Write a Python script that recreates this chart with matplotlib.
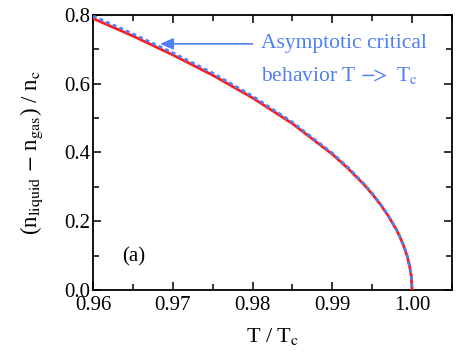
import matplotlib
matplotlib.use("Agg")
import matplotlib.pyplot as plt
from matplotlib.ticker import MultipleLocator

# data
T_red = [0.960, 0.965, 0.970, 0.975, 0.980, 0.985, 0.990, 0.992, 0.994, 0.995,
         0.996, 0.997, 0.998, 0.9985, 0.999, 0.9994, 0.9997, 0.9999, 1.000]
n_red = [0.790, 0.739, 0.684, 0.625, 0.559, 0.484, 0.395, 0.353, 0.306, 0.279,
         0.250, 0.216, 0.177, 0.153, 0.125, 0.097, 0.068, 0.040, 0.000]
T_blue = T_red
n_blue = [0.797, 0.745, 0.690, 0.631, 0.564, 0.488, 0.398, 0.356, 0.308, 0.281,
          0.251, 0.217, 0.178, 0.154, 0.126, 0.098, 0.069, 0.040, 0.000]

xticks = [0.96, 0.97, 0.98, 0.99, 1.00]
xticklabels = ["0.96", "0.97", "0.98", "0.99", "1.00"]
yticks = [0.0, 0.2, 0.4, 0.6, 0.8]
yticklabels = ["0.0", "0.2", "0.4", "0.6", "0.8"]

plt.rcParams['font.family'] = ['Liberation Serif', 'DejaVu Serif']
plt.rcParams['mathtext.fontset'] = 'stix'

RED = '#ff1a1a'
BLUE = '#4f7ff5'

fig = plt.figure(figsize=(4.57, 3.63), dpi=100)
ax = fig.add_axes([0.2035, 0.2011, 0.7855, 0.7576])

ax.plot(T_red, n_red, color=RED, lw=2.0, solid_capstyle='butt', zorder=3)
ax.plot(T_blue, n_blue, color=BLUE, lw=2.0, ls=(0, (1.4, 1.2)), zorder=4)

ax.set_xlim(0.96, 1.005)
ax.set_ylim(0.0, 0.8)
ax.set_xticks(xticks)
ax.set_xticklabels(xticklabels)
ax.set_yticks(yticks)
ax.set_yticklabels(yticklabels)
ax.xaxis.set_minor_locator(MultipleLocator(0.005))
ax.yaxis.set_minor_locator(MultipleLocator(0.1))
ax.tick_params(which='both', direction='in', top=True, right=True,
               labelsize=15, width=1.1)
ax.tick_params(which='major', length=6)
ax.tick_params(which='minor', length=4)
ax.tick_params(axis='x', which='major', pad=4)
ax.tick_params(axis='y', which='major', pad=2)
for s in ax.spines.values():
    s.set_linewidth(1.3)

ax.set_xlabel(r'T / T$_{\mathrm{c}}$', fontsize=16, labelpad=8)
ax.set_ylabel(r'(n$_{\mathrm{liquid}}$ $-$ n$_{\mathrm{gas}}$) / n$_{\mathrm{c}}$',
              fontsize=16.5, labelpad=14)

ax.annotate('', xy=(0.9684, 0.716), xytext=(0.9800, 0.716),
            arrowprops=dict(arrowstyle='-|>,head_length=0.8,head_width=0.35',
                            color=BLUE, lw=1.2, shrinkA=0, shrinkB=0))
ax.text(0.9811, 0.716, 'Asymptotic critical', color=BLUE, fontsize=15.5,
        ha='left', va='center')
ax.text(0.9811, 0.623, r'behavior T $\mathrm{-\!\!>}$ T$_{\mathrm{c}}$', color=BLUE,
        fontsize=15.5, ha='left', va='center')

ax.text(0.9637, 0.096, '(a)', fontsize=15, ha='left', va='center')

fig.savefig('out.png', dpi=100)
